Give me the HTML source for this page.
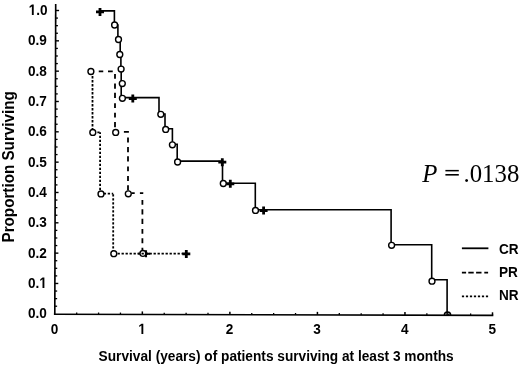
<!DOCTYPE html>
<html><head><meta charset="utf-8"><style>
html,body{margin:0;padding:0;background:#fff;}
svg{display:block;will-change:transform;}
.sb{font-family:"Liberation Sans",sans-serif;font-weight:bold;fill:#000;}
.pv{font-family:"Liberation Serif",serif;font-size:24.8px;fill:#000;}
</style></head><body>
<svg width="520" height="367" viewBox="0 0 520 367">
<line x1="55.7" y1="3.9" x2="54.8" y2="314.8" stroke="#000" stroke-width="1.65"/>
<line x1="53.95" y1="314.2" x2="493.3" y2="315.3" stroke="#000" stroke-width="1.65"/>
<line x1="54.82" y1="306.22" x2="57.12" y2="306.22" stroke="#000" stroke-width="1.3"/>
<line x1="54.85" y1="298.63" x2="57.15" y2="298.63" stroke="#000" stroke-width="1.3"/>
<line x1="54.87" y1="291.05" x2="57.17" y2="291.05" stroke="#000" stroke-width="1.3"/>
<line x1="54.89" y1="283.47" x2="58.29" y2="283.47" stroke="#000" stroke-width="1.4"/>
<line x1="54.91" y1="275.89" x2="57.21" y2="275.89" stroke="#000" stroke-width="1.3"/>
<line x1="54.93" y1="268.31" x2="57.23" y2="268.31" stroke="#000" stroke-width="1.3"/>
<line x1="54.96" y1="260.72" x2="57.26" y2="260.72" stroke="#000" stroke-width="1.3"/>
<line x1="54.98" y1="253.14" x2="58.38" y2="253.14" stroke="#000" stroke-width="1.4"/>
<line x1="55.00" y1="245.56" x2="57.30" y2="245.56" stroke="#000" stroke-width="1.3"/>
<line x1="55.02" y1="237.98" x2="57.32" y2="237.98" stroke="#000" stroke-width="1.3"/>
<line x1="55.04" y1="230.39" x2="57.34" y2="230.39" stroke="#000" stroke-width="1.3"/>
<line x1="55.07" y1="222.81" x2="58.47" y2="222.81" stroke="#000" stroke-width="1.4"/>
<line x1="55.09" y1="215.23" x2="57.39" y2="215.23" stroke="#000" stroke-width="1.3"/>
<line x1="55.11" y1="207.64" x2="57.41" y2="207.64" stroke="#000" stroke-width="1.3"/>
<line x1="55.13" y1="200.06" x2="57.43" y2="200.06" stroke="#000" stroke-width="1.3"/>
<line x1="55.15" y1="192.48" x2="58.55" y2="192.48" stroke="#000" stroke-width="1.4"/>
<line x1="55.18" y1="184.90" x2="57.48" y2="184.90" stroke="#000" stroke-width="1.3"/>
<line x1="55.20" y1="177.31" x2="57.50" y2="177.31" stroke="#000" stroke-width="1.3"/>
<line x1="55.22" y1="169.73" x2="57.52" y2="169.73" stroke="#000" stroke-width="1.3"/>
<line x1="55.24" y1="162.15" x2="58.64" y2="162.15" stroke="#000" stroke-width="1.4"/>
<line x1="55.26" y1="154.57" x2="57.56" y2="154.57" stroke="#000" stroke-width="1.3"/>
<line x1="55.29" y1="146.98" x2="57.59" y2="146.98" stroke="#000" stroke-width="1.3"/>
<line x1="55.31" y1="139.40" x2="57.61" y2="139.40" stroke="#000" stroke-width="1.3"/>
<line x1="55.33" y1="131.82" x2="58.73" y2="131.82" stroke="#000" stroke-width="1.4"/>
<line x1="55.35" y1="124.24" x2="57.65" y2="124.24" stroke="#000" stroke-width="1.3"/>
<line x1="55.37" y1="116.66" x2="57.67" y2="116.66" stroke="#000" stroke-width="1.3"/>
<line x1="55.40" y1="109.07" x2="57.70" y2="109.07" stroke="#000" stroke-width="1.3"/>
<line x1="55.42" y1="101.49" x2="58.82" y2="101.49" stroke="#000" stroke-width="1.4"/>
<line x1="55.44" y1="93.91" x2="57.74" y2="93.91" stroke="#000" stroke-width="1.3"/>
<line x1="55.46" y1="86.32" x2="57.76" y2="86.32" stroke="#000" stroke-width="1.3"/>
<line x1="55.48" y1="78.74" x2="57.78" y2="78.74" stroke="#000" stroke-width="1.3"/>
<line x1="55.51" y1="71.16" x2="58.91" y2="71.16" stroke="#000" stroke-width="1.4"/>
<line x1="55.53" y1="63.58" x2="57.83" y2="63.58" stroke="#000" stroke-width="1.3"/>
<line x1="55.55" y1="55.99" x2="57.85" y2="55.99" stroke="#000" stroke-width="1.3"/>
<line x1="55.57" y1="48.41" x2="57.87" y2="48.41" stroke="#000" stroke-width="1.3"/>
<line x1="55.59" y1="40.83" x2="58.99" y2="40.83" stroke="#000" stroke-width="1.4"/>
<line x1="55.61" y1="33.25" x2="57.91" y2="33.25" stroke="#000" stroke-width="1.3"/>
<line x1="55.64" y1="25.66" x2="57.94" y2="25.66" stroke="#000" stroke-width="1.3"/>
<line x1="55.66" y1="18.08" x2="57.96" y2="18.08" stroke="#000" stroke-width="1.3"/>
<line x1="55.68" y1="10.50" x2="59.08" y2="10.50" stroke="#000" stroke-width="1.4"/>
<line x1="76.69" y1="314.26" x2="76.69" y2="312.46" stroke="#000" stroke-width="1.3"/>
<line x1="98.57" y1="314.31" x2="98.57" y2="312.51" stroke="#000" stroke-width="1.3"/>
<line x1="120.45" y1="314.37" x2="120.45" y2="312.57" stroke="#000" stroke-width="1.3"/>
<line x1="142.34" y1="314.42" x2="142.34" y2="311.42" stroke="#000" stroke-width="1.5"/>
<line x1="164.23" y1="314.48" x2="164.23" y2="312.68" stroke="#000" stroke-width="1.3"/>
<line x1="186.11" y1="314.53" x2="186.11" y2="312.73" stroke="#000" stroke-width="1.3"/>
<line x1="208.00" y1="314.59" x2="208.00" y2="312.79" stroke="#000" stroke-width="1.3"/>
<line x1="229.88" y1="314.64" x2="229.88" y2="311.64" stroke="#000" stroke-width="1.5"/>
<line x1="251.76" y1="314.70" x2="251.76" y2="312.90" stroke="#000" stroke-width="1.3"/>
<line x1="273.65" y1="314.75" x2="273.65" y2="312.95" stroke="#000" stroke-width="1.3"/>
<line x1="295.54" y1="314.80" x2="295.54" y2="313.00" stroke="#000" stroke-width="1.3"/>
<line x1="317.42" y1="314.86" x2="317.42" y2="311.86" stroke="#000" stroke-width="1.5"/>
<line x1="339.31" y1="314.91" x2="339.31" y2="313.11" stroke="#000" stroke-width="1.3"/>
<line x1="361.19" y1="314.97" x2="361.19" y2="313.17" stroke="#000" stroke-width="1.3"/>
<line x1="383.08" y1="315.02" x2="383.08" y2="313.22" stroke="#000" stroke-width="1.3"/>
<line x1="404.96" y1="315.08" x2="404.96" y2="312.08" stroke="#000" stroke-width="1.5"/>
<line x1="426.85" y1="315.13" x2="426.85" y2="313.33" stroke="#000" stroke-width="1.3"/>
<line x1="448.73" y1="315.19" x2="448.73" y2="313.39" stroke="#000" stroke-width="1.3"/>
<line x1="470.62" y1="315.24" x2="470.62" y2="313.44" stroke="#000" stroke-width="1.3"/>
<line x1="492.50" y1="315.30" x2="492.50" y2="312.30" stroke="#000" stroke-width="1.5"/>
<text class="sb" transform="translate(27.99,318.30) scale(1,1.11)" style="font-size:13.6px">0.0</text>
<text class="sb" transform="translate(27.99,287.97) scale(1,1.11)" style="font-size:13.6px">0. </text><path d="M478 0L478 1170L140 959L140 1180L493 1409L759 1409L759 0Z" transform="translate(39.34,287.97) scale(0.00664,-0.00737)" fill="#000"/>
<text class="sb" transform="translate(27.99,257.64) scale(1,1.11)" style="font-size:13.6px">0.2</text>
<text class="sb" transform="translate(27.99,227.31) scale(1,1.11)" style="font-size:13.6px">0.3</text>
<text class="sb" transform="translate(27.99,196.98) scale(1,1.11)" style="font-size:13.6px">0.4</text>
<text class="sb" transform="translate(27.99,166.65) scale(1,1.11)" style="font-size:13.6px">0.5</text>
<text class="sb" transform="translate(27.99,136.32) scale(1,1.11)" style="font-size:13.6px">0.6</text>
<text class="sb" transform="translate(27.99,105.99) scale(1,1.11)" style="font-size:13.6px">0.7</text>
<text class="sb" transform="translate(27.99,75.66) scale(1,1.11)" style="font-size:13.6px">0.8</text>
<text class="sb" transform="translate(27.99,45.33) scale(1,1.11)" style="font-size:13.6px">0.9</text>
<text class="sb" transform="translate(28.69,15.00) scale(1,1.11)" style="font-size:13.6px"> .0</text><path d="M478 0L478 1170L140 959L140 1180L493 1409L759 1409L759 0Z" transform="translate(28.69,15.00) scale(0.00664,-0.00737)" fill="#000"/>
<text class="sb" transform="translate(50.72,333.80) scale(1,1.09)" style="font-size:13.6px">0</text>
<text class="sb" transform="translate(138.26,333.92) scale(1,1.09)" style="font-size:13.6px"> </text><path d="M478 0L478 1170L140 959L140 1180L493 1409L759 1409L759 0Z" transform="translate(138.26,333.92) scale(0.00664,-0.00724)" fill="#000"/>
<text class="sb" transform="translate(225.80,334.04) scale(1,1.09)" style="font-size:13.6px">2</text>
<text class="sb" transform="translate(313.34,334.16) scale(1,1.09)" style="font-size:13.6px">3</text>
<text class="sb" transform="translate(400.88,334.28) scale(1,1.09)" style="font-size:13.6px">4</text>
<text class="sb" transform="translate(488.42,334.40) scale(1,1.09)" style="font-size:13.6px">5</text>
<path d="M98.75 71.35H103.25M108 71.35H112.75M115.0 73.9V78.7M115.0 83.5V88.7M115.0 92.7V97.9M115.0 103.2V108M115.0 112.8V117.6M115.0 122V127.2M123.9 131.9H128.9M128.0 137.4V142.6M128.0 147V152.2M128.0 156.2V161.4M128.0 166.5V171.3M128.0 176.1V180.9M128.0 185.3V190.5M131.5 193.1H134.7M139.9 193.1H143.2M142.4 192.2V193.6M142.4 199.9V204.8M142.4 209.3V214.6M142.4 218.7V224M142.4 228.9V233.8M142.4 238.3V243.2M142.4 247.7V250" fill="none" stroke="#000" stroke-width="1.8"/>
<path d="M92.5 71.4V132.3" fill="none" stroke="#000" stroke-width="1.8" stroke-dasharray="2.3 1.7" stroke-dashoffset="-0.72"/>
<path d="M92.8 132.3H100.1" fill="none" stroke="#000" stroke-width="1.8" stroke-dasharray="2.3 1.7" stroke-dashoffset="-0.55"/>
<path d="M100.1 132.3V193.7" fill="none" stroke="#000" stroke-width="1.8" stroke-dasharray="2.3 1.7" stroke-dashoffset="0.55"/>
<path d="M101 193.7H113.2" fill="none" stroke="#000" stroke-width="1.8" stroke-dasharray="2.3 1.7" stroke-dashoffset="1.25"/>
<path d="M113.2 193.7V253.6" fill="none" stroke="#000" stroke-width="1.8" stroke-dasharray="2.3 1.7" stroke-dashoffset="-0.45"/>
<path d="M113.8 253.6H183" fill="none" stroke="#000" stroke-width="1.8" stroke-dasharray="2.3 1.7" stroke-dashoffset="0.25"/>
<path d="M99.8 10.9 H114.4 V25 H117.9 V39.5 H120.2 V54.5 H120.9 V69.1 H121.2 V98 M122.4 97.6 H159 V114 H165 V128.8 H172.4 V144.2 H177.2 V161.1 H222.5 V183.3 H255.3 V209.7 H391.1 V244.8 H431.7 V279.7 H447.1 V315.1" fill="none" stroke="#000" stroke-width="1.6"/>
<circle cx="114.6" cy="25" r="2.95" fill="#fff" stroke="#000" stroke-width="1.4"/>
<circle cx="118.5" cy="39.5" r="2.95" fill="#fff" stroke="#000" stroke-width="1.4"/>
<circle cx="119.8" cy="54.5" r="2.95" fill="#fff" stroke="#000" stroke-width="1.4"/>
<circle cx="121.1" cy="69.1" r="2.95" fill="#fff" stroke="#000" stroke-width="1.4"/>
<circle cx="122.3" cy="83.6" r="2.95" fill="#fff" stroke="#000" stroke-width="1.4"/>
<circle cx="122.4" cy="98.3" r="2.95" fill="#fff" stroke="#000" stroke-width="1.4"/>
<circle cx="160.8" cy="114.3" r="2.95" fill="#fff" stroke="#000" stroke-width="1.4"/>
<circle cx="165.7" cy="129.4" r="2.95" fill="#fff" stroke="#000" stroke-width="1.4"/>
<circle cx="172.4" cy="144.8" r="2.95" fill="#fff" stroke="#000" stroke-width="1.4"/>
<circle cx="177.6" cy="162" r="2.95" fill="#fff" stroke="#000" stroke-width="1.4"/>
<circle cx="223.3" cy="183.5" r="2.95" fill="#fff" stroke="#000" stroke-width="1.4"/>
<circle cx="255.5" cy="210.4" r="2.95" fill="#fff" stroke="#000" stroke-width="1.4"/>
<circle cx="391.6" cy="245.3" r="2.95" fill="#fff" stroke="#000" stroke-width="1.4"/>
<circle cx="432" cy="281.2" r="2.95" fill="#fff" stroke="#000" stroke-width="1.4"/>
<circle cx="90.9" cy="71.5" r="2.95" fill="#fff" stroke="#000" stroke-width="1.4"/>
<circle cx="92.8" cy="132.4" r="2.95" fill="#fff" stroke="#000" stroke-width="1.4"/>
<circle cx="115.7" cy="132.4" r="2.95" fill="#fff" stroke="#000" stroke-width="1.4"/>
<circle cx="101" cy="193.9" r="2.95" fill="#fff" stroke="#000" stroke-width="1.4"/>
<circle cx="128.3" cy="193.8" r="2.95" fill="#fff" stroke="#000" stroke-width="1.4"/>
<circle cx="113.8" cy="253.7" r="2.95" fill="#fff" stroke="#000" stroke-width="1.4"/>
<circle cx="142.9" cy="253.4" r="2.95" fill="#fff" stroke="#000" stroke-width="1.4"/>
<path d="M137.8 253.6H149.8" fill="none" stroke="#000" stroke-width="1.8" stroke-dasharray="2.3 1.7" stroke-dashoffset="0.25"/>
<path d="M444.4 315.1 A3.1 3.1 0 0 1 450.6 315.1" fill="none" stroke="#000" stroke-width="1.6"/>
<path d="M96.0 11.9H104.0M100 7.9V15.9" stroke="#000" stroke-width="2.8" fill="none"/>
<path d="M128.8 98.6H136.8M132.8 94.6V102.6" stroke="#000" stroke-width="2.8" fill="none"/>
<path d="M218.3 162.2H226.3M222.3 158.2V166.2" stroke="#000" stroke-width="2.8" fill="none"/>
<path d="M226.3 183.8H234.3M230.3 179.8V187.8" stroke="#000" stroke-width="2.8" fill="none"/>
<path d="M259.6 210.6H267.6M263.6 206.6V214.6" stroke="#000" stroke-width="2.8" fill="none"/>
<path d="M182.3 253.9H190.3M186.3 249.9V257.9" stroke="#000" stroke-width="2.8" fill="none"/>
<path d="M146 250.3V257.2M145.5 253.7H150.2" stroke="#000" stroke-width="2.1" fill="none"/>
<line x1="461.9" y1="248.3" x2="488.4" y2="248.3" stroke="#000" stroke-width="1.8"/>
<path d="M461.9 272.6H466.1M468.3 272.6H473.7M476.1 272.6H481.5M484.3 272.6H488.1" stroke="#000" stroke-width="1.8" fill="none"/>
<line x1="461.9" y1="296.3" x2="488.2" y2="296.3" stroke="#000" stroke-width="1.8" stroke-dasharray="2.2 1.8"/>
<text class="sb" transform="translate(499.0,253.8) scale(1,1.09)" style="font-size:13.6px">CR</text>
<text class="sb" transform="translate(499.0,277.1) scale(1,1.09)" style="font-size:13.6px">PR</text>
<text class="sb" transform="translate(499.0,300.4) scale(1,1.09)" style="font-size:13.6px">NR</text>
<text class="pv" x="422.3" y="181.5" font-style="italic">P</text>
<rect x="445.4" y="169.9" width="13.4" height="1.5" fill="#000"/><rect x="445.4" y="174.0" width="13.4" height="1.6" fill="#000"/>
<text class="pv" x="519.3" y="181.5" text-anchor="end">.0138</text>
<text class="sb" transform="translate(98.6,360.5) scale(1,1.09)" style="font-size:13.7px">Survival (years) of patients surviving at least 3 months</text>
<text class="sb" transform="translate(14.0,242.5) rotate(-90) scale(1.072,1.11)" style="font-size:14.2px">Proportion Surviving</text>
</svg>
</body></html>
